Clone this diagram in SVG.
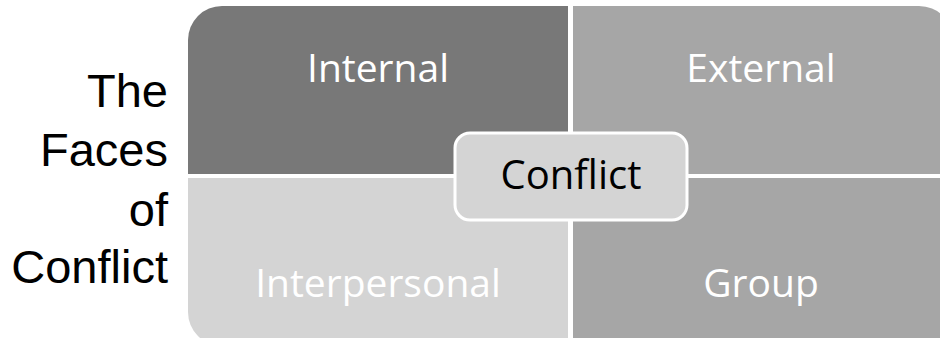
<svg xmlns="http://www.w3.org/2000/svg" width="940" height="338" viewBox="0 0 940 338">
<style>
.q{font-family:"Open Sans","Liberation Sans",sans-serif;font-size:39px;fill:#ffffff;text-anchor:middle}
.t{font-family:"Liberation Sans",Arial,sans-serif;font-size:47px;fill:#000000;text-anchor:end}
.c{font-family:"Open Sans","Liberation Sans",sans-serif;font-size:40px;fill:#000000;text-anchor:middle}
</style>
<rect width="940" height="338" fill="#ffffff"/>
<g id="title">
<text class="t" x="168" y="107">The</text>
<text class="t" x="168" y="166">Faces</text>
<text class="t" x="168" y="226">of</text>
<text class="t" x="168" y="283">Conflict</text>
</g>
<g id="internal">
<path d="M188,40 A34,34 0 0 1 222,6 L568,6 L568,174 L188,174 Z" fill="#787878"/>
<text class="q" x="378" y="82">Internal</text>
</g>
<g id="external">
<path d="M573,6 L919,6 A34,34 0 0 1 953,40 L953,174 L573,174 Z" fill="#a6a6a6"/>
<text class="q" x="761" y="82">External</text>
</g>
<g id="interpersonal">
<path d="M188,178 L568,178 L568,346 L222,346 A34,34 0 0 1 188,312 Z" fill="#d4d4d4"/>
<text class="q" x="378" y="297">Interpersonal</text>
</g>
<g id="group">
<path d="M573,178 L953,178 L953,346 L573,346 Z" fill="#a6a6a6"/>
<text class="q" x="761" y="297">Group</text>
</g>
<g id="connectors"></g>
<g id="conflict">
<rect x="455" y="133" width="232" height="87" rx="15" ry="15" fill="#d4d4d4" stroke="#ffffff" stroke-width="3"/>
<text class="c" x="571" y="189">Conflict</text>
</g>
</svg>
